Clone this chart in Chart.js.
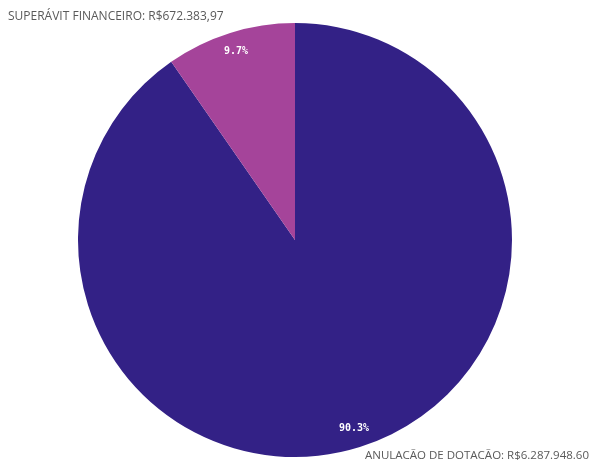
<!DOCTYPE html>
<html>
<head>
<meta charset="utf-8">
<script src="https://cdn.jsdelivr.net/npm/chart.js@4"></script>
<style>
  html, body { margin: 0; padding: 0; background: #fff; }
  #wrap { width: 591px; height: 463px; }
</style>
</head>
<body>
<div id="wrap"><canvas id="pieChart"></canvas></div>
<script>
// pie data
const categories = ['ANULACÃO DE DOTACÃO', 'SUPERÁVIT FINANCEIRO'];
const values = [6287948.60, 672383.97];
const valueLabels = ['R$6.287.948.60', 'R$672.383,97'];
const colors = ['#332186', '#A5449A'];

// draws the percentages inside the slices and the two corner labels
const labelPlugin = {
  id: 'labelPlugin',
  afterDatasetsDraw(chart) {
    const ctx = chart.ctx;
    const meta = chart.getDatasetMeta(0);
    const total = values.reduce((a, b) => a + b, 0);
    ctx.save();
    ctx.fillStyle = '#ffffff';
    ctx.font = 'bold 10px "DejaVu Sans Mono"';
    ctx.textAlign = 'center';
    ctx.textBaseline = 'middle';
    meta.data.forEach((arc, i) => {
      const mid = (arc.startAngle + arc.endAngle) / 2;
      const r = arc.outerRadius * 0.91;
      const pct = (values[i] / total * 100).toFixed(1) + '%';
      ctx.fillText(pct, arc.x + Math.cos(mid) * r, arc.y + Math.sin(mid) * r);
    });

    ctx.fillStyle = '#595959';
    ctx.textBaseline = 'alphabetic';
    ctx.textAlign = 'left';
    ctx.font = '12px "Open Sans"';
    ctx.fillText(categories[1] + ': ' + valueLabels[1], 8, 20);
    ctx.textAlign = 'right';
    ctx.font = '11.5px "Open Sans"';
    ctx.fillText(categories[0] + ': ' + valueLabels[0], 589, 459);
    ctx.restore();
  }
};

const config = {
  type: 'pie',
  data: {
    labels: categories,
    datasets: [{
      data: values,
      backgroundColor: colors,
      borderWidth: 0
    }]
  },
  options: {
    responsive: true,
    maintainAspectRatio: false,
    animation: false,
    layout: {
      padding: {top: 23, bottom: 6, left: 0, right: 1}
    },
    plugins: {
      legend: { display: false },
      tooltip: { enabled: false },
      title: { display: false }
    }
  },
  plugins: [labelPlugin]
};

var PieChart = new Chart(document.getElementById('pieChart'), config);
</script>
</body>
</html>
